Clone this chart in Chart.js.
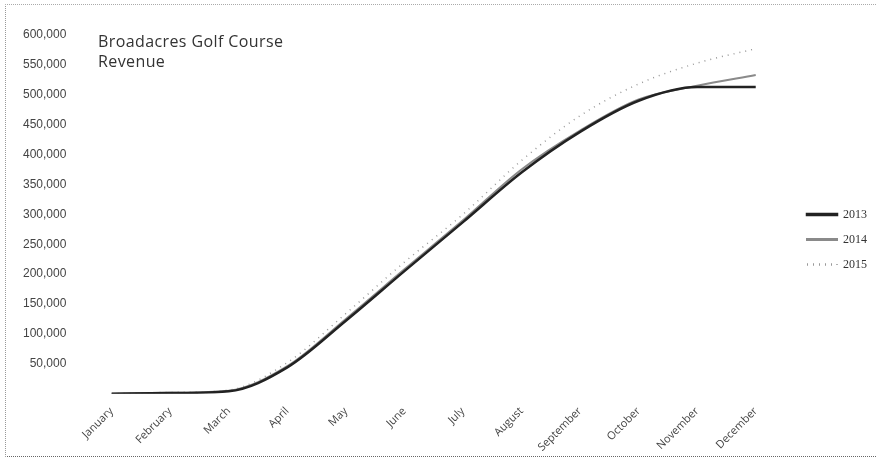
<!DOCTYPE html>
<html>
<head>
<meta charset="utf-8">
<script src="https://cdn.jsdelivr.net/npm/chart.js@4.4.1/dist/chart.umd.min.js"></script>
<style>
  html, body { margin: 0; padding: 0; background: #fff; }
  #wrap { position: relative; width: 877px; height: 465px; }
  #title {
    position: absolute; left: 98px; top: 31px;
    font-family: "Open Sans", sans-serif; font-size: 16px; line-height: 20px;
    letter-spacing: 0.4px; color: #333;
  }
  #frame {
    position: absolute; left: 5px; top: 4px; width: 880px; height: 451px;
    border-top: 1px dotted #aaa; border-left: 1px dotted #999; border-bottom: 1px dotted #666;
    pointer-events: none;
  }
</style>
</head>
<body>
<div id="wrap">
  <canvas id="myChart" width="877" height="465"></canvas>
  <div id="title">Broadacres Golf Course<br>Revenue</div>
  <div id="frame"></div>
</div>
<script>
'use strict';

// categories
let months = ['January', 'February', 'March', 'April', 'May', 'June', 'July',
  'August', 'September', 'October', 'November', 'December'];

// series values
let rev2013 = [0, 1000, 4000, 44000, 122000, 205000, 287000, 370000, 438000, 490000, 513000, 513000];
let rev2014 = [0, 1500, 5000, 46000, 125000, 208000, 290000, 375000, 440000, 492000, 515000, 533000];
let rev2015 = [0, 2000, 6000, 52000, 134000, 220000, 300000, 390000, 465000, 518000, 553000, 577000];

// y ticks
let yMin = 0;
let yMax = 600000;
let yStep = 50000;

let data = {
  labels: months,
  datasets: [{
    label: '2013',
    data: rev2013,
    borderColor: '#222',
    backgroundColor: '#222',
    borderWidth: 2.5
  }, {
    label: '2014',
    data: rev2014,
    borderColor: '#8a8a8a',
    backgroundColor: '#8a8a8a',
    borderWidth: 2
  }, {
    label: '2015',
    data: rev2015,
    borderColor: '#999',
    backgroundColor: 'transparent',
    borderWidth: 1.5,
    borderDash: [1, 5]
  }]
};

let config = {
  type: 'line',
  data,
  options: {
    responsive: false,
    animation: false,
    layout: {
      padding: { top: 35, left: 15, right: 0, bottom: 8 }
    },
    elements: {
      point: { radius: 0 },
      line: { cubicInterpolationMode: 'monotone' }
    },
    plugins: {
      title: { display: false },
      tooltip: { enabled: false },
      legend: {
        position: 'right',
        fullSize: false,
        // empty legend title only pushes the entries down a little
        title: {
          display: true,
          text: '',
          font: { size: 12 },
          padding: { top: 0, bottom: 36 }
        },
        labels: {
          boxWidth: 30,
          boxHeight: 1,
          padding: 13,
          color: '#333',
          font: { family: '"Liberation Serif", serif', size: 12 }
        }
      }
    },
    scales: {
      x: {
        offset: true,
        grid: { display: false },
        border: { display: false },
        ticks: {
          minRotation: 45,
          maxRotation: 45,
          color: '#444',
          font: { family: '"Open Sans", sans-serif', size: 11 }
        }
      },
      y: {
        min: yMin,
        max: yMax,
        grid: { display: false },
        border: { display: false },
        ticks: {
          stepSize: yStep,
          color: '#444',
          padding: 8,
          font: { family: '"Liberation Sans", sans-serif', size: 12 },
          callback: function (v) {
            if (v === 0) return '';
            return v.toLocaleString('en-US');
          }
        }
      },
      // empty spacer between plot and legend
      gap: {
        position: 'right',
        grid: { display: false },
        border: { display: false },
        ticks: { display: false },
        afterFit: function (s) { s.width = 9; }
      }
    }
  }
};

let myChart = new Chart(document.getElementById('myChart'), config);
</script>
</body>
</html>
